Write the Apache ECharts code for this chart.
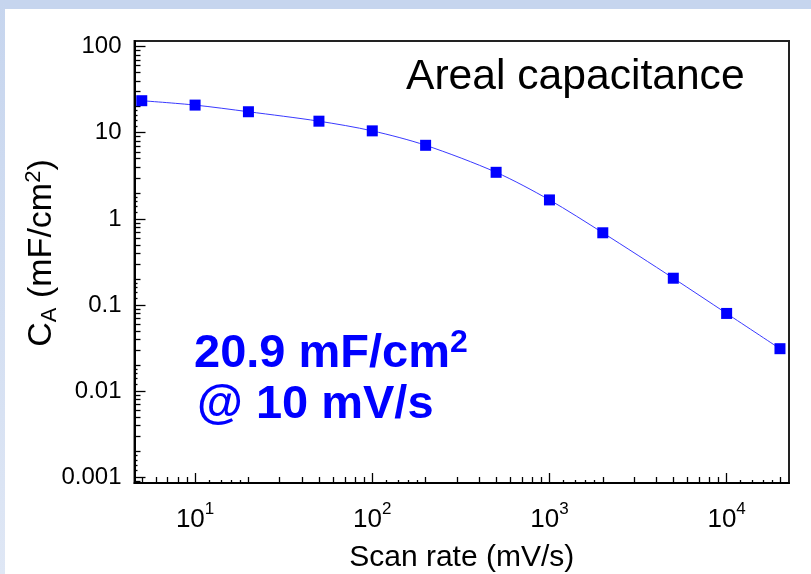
<!DOCTYPE html>
<html>
<head>
<meta charset="utf-8">
<script src="https://cdn.jsdelivr.net/npm/echarts@6/dist/echarts.min.js"></script>
<style>
  html, body { margin: 0; padding: 0; background: #ffffff; }
  #chart { width: 811px; height: 574px; }
</style>
</head>
<body>
<div id="chart"></div>
<script>
// Scan rate (mV/s) and areal capacitance (mF/cm^2)
const scanRates = [5, 10, 20, 50, 100, 200, 500, 1000, 2000, 5000, 10000, 20000];
const arealCap  = [23.5, 20.9, 17.5, 13.6, 10.5, 7.14, 3.47, 1.66, 0.69, 0.205, 0.080, 0.0312];

// Axis ticks and labels
const yMajor  = [0.001, 0.01, 0.1, 1, 10, 100];
const yLabels = ['0.001', '0.01', '0.1', '1', '10', '100'];
const xMajor  = [10, 100, 1000, 10000];
const xExp    = ['1', '2', '3', '4'];
const decades = [0.0001, 0.001, 0.01, 0.1, 1, 10, 100, 1000, 10000];
const coarseSteps = [2, 3, 4, 5, 6, 7, 8, 9];
const fineSteps   = [1.2, 1.4, 1.6, 1.8];

const xRange = [4.55, 22490];
const yRange = [0.000863, 115.8];

function stepTicks(steps, lo, hi) {
  const out = [];
  decades.forEach(d => steps.forEach(s => {
    const v = +(d * s).toPrecision(6);
    if (v >= lo && v <= hi) out.push(v);
  }));
  return out;
}

const FONT = '"Liberation Sans", Arial, sans-serif';

function findIndex(list, v) {
  let best = 0, bd = Infinity;
  list.forEach((m, i) => {
    const d = Math.abs(Math.log10(m) - Math.log10(v));
    if (d < bd) { bd = d; best = i; }
  });
  return best;
}

const gridBox = { left: 134.5, top: 41, right: 22, bottom: 91 };

function tickAxis(kind, values, len, extra) {
  const range = kind === 'x' ? xRange : yRange;
  return Object.assign({
    type: 'log',
    logBase: 10,
    min: range[0],
    max: range[1],
    position: kind === 'x' ? 'bottom' : 'left',
    offset: 0,
    axisLine: { show: false },
    axisTick: { show: true, inside: true, length: len, customValues: values,
                lineStyle: { color: '#000', width: 1.3 } },
    axisLabel: { show: false },
    minorTick: { show: false },
    splitLine: { show: false },
    minorSplitLine: { show: false }
  }, extra || {});
}

const chart = echarts.init(document.getElementById('chart'), null, { renderer: 'canvas' });

const option = {
  animation: false,
  backgroundColor: '#ffffff',
  grid: Object.assign({ show: true, borderColor: '#222', borderWidth: 2,
                        backgroundColor: 'transparent',
                        containLabel: false, outerBoundsMode: 'none' }, gridBox),
  xAxis: [
    tickAxis('x', xMajor, 10, {
      axisLine: { show: true, lineStyle: { color: '#000', width: 2 } },
      axisLabel: {
        show: true,
        customValues: xMajor,
        margin: 18,
        fontFamily: FONT,
        fontSize: 26,
        color: '#000',
        formatter: v => '{b|10}{s|' + xExp[findIndex(xMajor, v)] + '}',
        rich: {
          b: { fontFamily: FONT, fontSize: 26, color: '#000', lineHeight: 32, verticalAlign: 'bottom' },
          s: { fontFamily: FONT, fontSize: 17, color: '#000', lineHeight: 18, verticalAlign: 'top' }
        }
      },
      name: 'Scan rate (mV/s)',
      nameLocation: 'middle',
      nameGap: 60,
      nameMoveOverlap: false,
      nameTextStyle: { fontFamily: FONT, fontSize: 30, color: '#000' }
    }),
    tickAxis('x', stepTicks(coarseSteps, xRange[0], xRange[1]), 6),
    tickAxis('x', stepTicks(fineSteps, xRange[0], xRange[1]), 3)
  ],
  yAxis: [
    tickAxis('y', yMajor, 11, {
      axisLine: { show: true, lineStyle: { color: '#000', width: 2 } },
      axisLabel: {
        show: true,
        customValues: yMajor,
        margin: 13,
        fontFamily: FONT,
        fontSize: 24,
        color: '#000',
        formatter: v => yLabels[findIndex(yMajor, v)]
      },
      name: '{t|C}{sub|A}{t| (mF/cm}{sup|2}{t|)}',
      nameLocation: 'middle',
      nameGap: 74,
      nameMoveOverlap: false,
      nameTextStyle: {
        fontFamily: FONT,
        fontSize: 34,
        padding: [0, 0, 0, 18],
        rich: {
          t:   { fontFamily: FONT, fontSize: 34, color: '#000', lineHeight: 38, verticalAlign: 'middle' },
          sub: { fontFamily: FONT, fontSize: 22, color: '#000', lineHeight: 18, verticalAlign: 'bottom' },
          sup: { fontFamily: FONT, fontSize: 22, color: '#000', lineHeight: 18, verticalAlign: 'top' }
        }
      }
    }),
    tickAxis('y', stepTicks(coarseSteps, yRange[0], yRange[1]), 6),
    tickAxis('y', stepTicks(fineSteps, yRange[0], yRange[1]), 3)
  ],
  series: [{
    type: 'line',
    xAxisIndex: 0,
    yAxisIndex: 0,
    data: scanRates.map((x, i) => [x, arealCap[i]]),
    smooth: 0.3,
    symbol: 'rect',
    symbolSize: 11,
    showAllSymbol: true,
    lineStyle: { color: '#3a3aff', width: 1 },
    itemStyle: { color: '#0000ff' },
    emphasis: { disabled: true },
    z: 5
  }],
  graphic: [
    { type: 'rect', left: 0, top: 0, z: -10, silent: true,
      shape: { width: 811, height: 9 }, style: { fill: '#c6d5ee' } },
    { type: 'rect', left: 0, top: 0, z: -10, silent: true,
      shape: { width: 5, height: 574 },
      style: { fill: new echarts.graphic.LinearGradient(0, 0, 0, 1, [
        { offset: 0, color: '#c6d5ee' }, { offset: 1, color: '#dfe7f5' }
      ]) } },
    { type: 'text', left: 406, top: 56, silent: true,
      style: { text: 'Areal capacitance', font: '42.6px ' + FONT, fill: '#000' } },
    { type: 'text', left: 194, top: 327, silent: true,
      style: {
        text: '{m|20.9 mF/cm}{p|2}',
        rich: {
          m: { font: 'bold 47px ' + FONT, fill: '#0000ff', lineHeight: 51, verticalAlign: 'bottom' },
          p: { font: 'bold 32px ' + FONT, fill: '#0000ff', lineHeight: 30, verticalAlign: 'top' }
        }
      } },
    { type: 'text', left: 197, top: 382, silent: true,
      style: { text: '@ 10 mV/s', font: 'bold 47px ' + FONT, fill: '#0000ff' } }
  ]
};

chart.setOption(option);
</script>
</body>
</html>
